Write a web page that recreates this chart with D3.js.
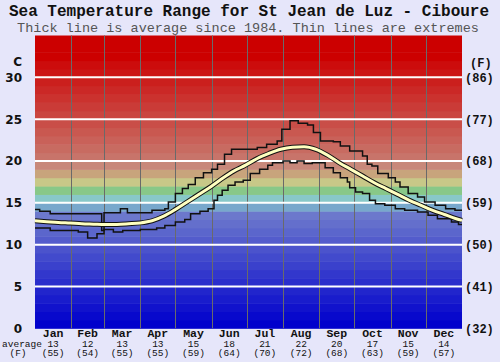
<!DOCTYPE html>
<html><head><meta charset="utf-8">
<script src="https://cdn.jsdelivr.net/npm/d3@7"></script>
<style>body{margin:0;background:#e6e6fa;}svg{display:block;}</style>
</head><body>
<svg id="c" width="500" height="362"></svg>
<script>
const months = ["Jan","Feb","Mar","Apr","May","Jun","Jul","Aug","Sep","Oct","Nov","Dec"];
const monthDays = [31,28,31,30,31,30,31,31,30,31,30,31];
const monthAvgC = [13,12,13,13,15,18,21,22,20,17,15,14];
const monthAvgF = [55,54,55,55,59,64,70,72,68,63,59,57];
const tickC = [0,5,10,15,20,25,30];
const tickF = [32,41,50,59,68,77,86];

const avgDays = [0,10,20,30,40,50,60,70,80,90,100,110,120,130,140,150,160,170,180,190,200,210,220,230,240,250,260,270,280,290,300,310,320,330,340,350,360,365];
const avgVals = [12.85,12.75,12.65,12.58,12.5,12.45,12.4,12.42,12.5,12.6,12.85,13.4,14.2,15.1,16.0,16.9,17.9,18.8,19.5,20.3,20.9,21.4,21.65,21.7,21.4,20.7,19.8,19.0,18.2,17.4,16.7,16.0,15.3,14.7,14.1,13.6,13.1,12.9];

const maxDays = [0,4,13,57,59,73,79,100,111,114,120,126,131,137,144,151,156,162,168,190,198,207,211,218,225,233,238,244,255,261,269,280,284,288,293,302,308,312,319,327,333,342,351,359,365];
const maxVals = [14.2,14.0,13.7,11.7,13.8,14.3,13.8,14.1,14.3,15.1,16.1,16.7,17.2,18.0,18.6,19.0,19.6,20.8,21.4,21.6,22.0,22.4,23.8,24.8,24.5,24.3,23.4,22.4,22.3,21.8,21.2,20.6,19.6,19.4,18.5,18.0,17.5,16.9,16.1,15.7,15.1,14.7,14.3,14.1,14.1];

const minDays = [0,13,37,45,53,59,67,75,90,104,111,120,128,133,141,148,153,156,160,165,171,178,184,192,199,203,212,218,224,230,237,248,255,261,267,269,274,280,286,291,299,308,316,327,336,344,356,362,365];
const minVals = [12.0,11.7,11.5,10.8,11.3,11.8,11.5,11.7,11.8,12.0,12.3,12.7,13.0,13.7,14.0,14.3,15.3,15.9,16.5,17.1,17.5,17.7,18.5,19.0,19.5,19.8,20.0,19.8,20.0,19.7,19.8,19.2,18.6,18.0,17.5,16.8,16.3,16.1,15.3,14.9,14.7,14.3,14.1,13.9,13.5,13.1,12.7,12.4,12.4];

const svg = d3.select("#c");
const X0 = 35, X1 = 462, Y0 = 328.3, Y1 = 35.5;
const x = d3.scaleLinear().domain([0,365]).range([X0,X1]);
const y = d3.scaleLinear().domain([0,35]).range([Y0,Y1]);

svg.append("rect").attr("width",500).attr("height",362).attr("fill","#e6e6fa");

function bandColor(i){
  if(i>=32) return "rgb(204,0,0)";
  if(i>=20){ return d3.interpolateRgb("rgb(200,116,106)","rgb(204,12,12)")((i-20)/11); }
  const fixed = {19:"#c8887a",18:"#c8a47c",17:"#c8c888",16:"#88c888",15:"#88c8c8",14:"#78a8cc"};
  if(fixed[i]) return fixed[i];
  return d3.interpolateRgb("rgb(0,0,204)","rgb(108,120,204)")(i/13);
}
const bands = d3.range(0,35);
svg.append("g").selectAll("rect").data(bands).join("rect")
  .attr("x",X0).attr("width",X1-X0)
  .attr("y",d=>y(d+1)).attr("height",d=>y(d)-y(d+1)+0.5)
  .attr("fill",d=>bandColor(d));

// month grid lines
const bounds = Array.from(d3.cumsum(monthDays));
const starts = [0].concat(bounds.slice(0,11));
svg.append("g").selectAll("line").data(bounds.slice(0,11)).join("line")
  .attr("x1",d=>Math.round(x(d))+0.5).attr("x2",d=>Math.round(x(d))+0.5)
  .attr("y1",Y1).attr("y2",Y0).attr("stroke","#6a6a6a").attr("stroke-width",1);

// white horizontal lines
svg.append("g").selectAll("line").data(tickC.slice(1)).join("line")
  .attr("x1",X0).attr("x2",X1).attr("y1",d=>y(d)).attr("y2",d=>y(d))
  .attr("stroke","#ffffff").attr("stroke-width",2);

// lines
const stepLine = d3.line().x(d=>x(d[0])).y(d=>y(d[1])).curve(d3.curveStepAfter);
const maxPts = maxDays.map((d,i)=>[d,maxVals[i]]);
const minPts = minDays.map((d,i)=>[d,minVals[i]]);
const avgPts = avgDays.map((d,i)=>[d,avgVals[i]]);
svg.append("path").attr("d",stepLine(maxPts)).attr("fill","none").attr("stroke","#111").attr("stroke-width",1.5);
svg.append("path").attr("d",stepLine(minPts)).attr("fill","none").attr("stroke","#111").attr("stroke-width",1.5);
const smooth = d3.line().x(d=>x(d[0])).y(d=>y(d[1])).curve(d3.curveMonotoneX);
svg.append("path").attr("d",smooth(avgPts)).attr("fill","none").attr("stroke","#111").attr("stroke-width",5);
svg.append("path").attr("d",smooth(avgPts)).attr("fill","none").attr("stroke","#ffffc0").attr("stroke-width",3);

// titles
svg.append("text").attr("x",249).attr("y",15.5).attr("text-anchor","middle")
  .attr("font-family","'Liberation Mono', monospace").attr("font-weight","bold").attr("font-size",16)
  .attr("fill","#111").text("Sea Temperature Range for St Jean de Luz - Ciboure");
svg.append("text").attr("x",248).attr("y",32).attr("text-anchor","middle")
  .attr("font-family","'Liberation Mono', monospace").attr("font-size",13.5)
  .attr("fill","#555").text("Thick line is average since 1984. Thin lines are extremes");

// left axis
const left = svg.append("g").attr("font-family","'DejaVu Sans', sans-serif").attr("font-weight","bold").attr("font-size",12).attr("fill","#111");
left.selectAll("text").data(tickC).join("text").attr("x",22).attr("y",d=>y(d)+4.5).attr("text-anchor","end").text(d=>d);
left.append("text").attr("x",22).attr("y",65.5).attr("text-anchor","end").text("C");

// right axis
const right = svg.append("g").attr("font-family","'Liberation Mono', monospace").attr("font-weight","bold").attr("font-size",12).attr("fill","#111");
right.selectAll("text").data(tickF).join("text").attr("x",465).attr("y",(d,i)=>y(tickC[i])+4.5).text(d=>"("+d+")");
right.append("text").attr("x",470).attr("y",67).text("(F)");

// bottom labels
const cx = i => x(starts[i]+monthDays[i]/2);
const bot = svg.append("g").attr("font-family","'Liberation Mono', monospace").attr("fill","#111").attr("text-anchor","middle");
bot.selectAll("text.m").data(months).join("text").attr("class","m")
  .attr("x",(d,i)=>cx(i)).attr("y",337).attr("font-size",11.5).attr("font-weight","bold").text(d=>d);
bot.selectAll("text.c").data(monthAvgC).join("text").attr("class","c")
  .attr("x",(d,i)=>cx(i)).attr("y",346.5).attr("font-size",9.5).text(d=>d);
bot.selectAll("text.f").data(monthAvgF).join("text").attr("class","f")
  .attr("x",(d,i)=>cx(i)).attr("y",356).attr("font-size",9.5).text(d=>"("+d+")");
bot.append("text").attr("x",22).attr("y",346.5).attr("font-size",9.5).text("average");
bot.append("text").attr("x",18).attr("y",356).attr("font-size",9.5).text("(F)");
</script>
</body></html>
